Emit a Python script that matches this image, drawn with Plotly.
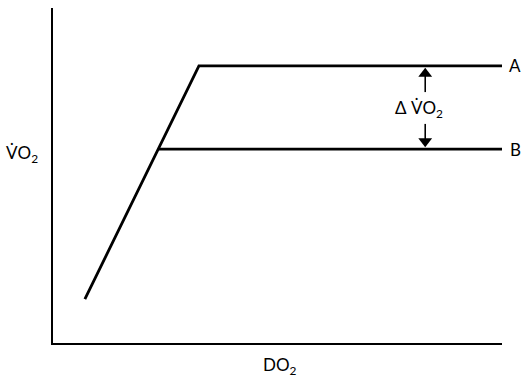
import plotly.graph_objects as go

# Oxygen consumption (VO2) vs oxygen delivery (DO2), schematic, arbitrary units
supply_x = [7.1, 32.5, 100.0]      # curve A: dependent limb then plateau
supply_a = [13.1, 82.7, 82.7]
plateau_b_x = [23.4, 100.0]        # curve B: lower plateau
plateau_b_y = [57.9, 57.9]

delta_x = 82.9
label_a = "A"
label_b = "B"
delta_label = "Δ V\u0307O<sub>2</sub>"
y_title = "V\u0307O<sub>2</sub>"
x_title = "DO<sub>2</sub>"

font_family = "Lato, 'Open Sans', sans-serif"
txt = dict(size=17, color="black", family=font_family)

fig = go.Figure()
fig.add_trace(go.Scatter(x=supply_x, y=supply_a, mode="lines",
                         line=dict(color="black", width=2.8), hoverinfo="skip"))
fig.add_trace(go.Scatter(x=plateau_b_x, y=plateau_b_y, mode="lines",
                         line=dict(color="black", width=2.8), hoverinfo="skip"))

# difference arrows: shafts
fig.add_trace(go.Scatter(x=[delta_x, delta_x, None, delta_x, delta_x],
                         y=[74.9, 79.7, None, 65.4, 60.9], mode="lines",
                         line=dict(color="black", width=1.6), hoverinfo="skip"))
# arrowheads (triangle tip sits r = size/2 from the marker centre)
fig.add_trace(go.Scatter(x=[delta_x], y=[80.4], mode="markers",
                         marker=dict(symbol="triangle-up", size=12, color="black"),
                         hoverinfo="skip"))
fig.add_trace(go.Scatter(x=[delta_x], y=[60.2], mode="markers",
                         marker=dict(symbol="triangle-down", size=12, color="black"),
                         hoverinfo="skip"))

# end labels
fig.add_annotation(x=100, y=supply_a[-1], text=label_a, showarrow=False,
                   xanchor="left", xshift=5, font=txt)
fig.add_annotation(x=100, y=plateau_b_y[-1], text=label_b, showarrow=False,
                   xanchor="left", xshift=6, font=txt)

fig.add_annotation(x=delta_x, y=69.8, text=delta_label, showarrow=False,
                   xanchor="center", xshift=-6, font=txt)

# axis titles
fig.add_annotation(x=0, y=56.5, xref="paper", yref="y", text=y_title, showarrow=False,
                   xanchor="center", xshift=-31, font=txt)
fig.add_annotation(x=50.6, y=0, xref="x", yref="paper", text=x_title, showarrow=False,
                   yanchor="middle", yshift=-23, font=txt)

fig.update_xaxes(range=[0, 100], showline=True, linecolor="black", linewidth=2,
                 showgrid=False, zeroline=False, showticklabels=False, ticks="")
fig.update_yaxes(range=[0, 100], showline=True, linecolor="black", linewidth=2,
                 showgrid=False, zeroline=False, showticklabels=False, ticks="")

fig.update_layout(width=527, height=379, showlegend=False,
                  margin=dict(l=53, r=25, t=8, b=36),
                  plot_bgcolor="white", paper_bgcolor="white")

fig.write_html("out.html", config={"displayModeBar": False})
